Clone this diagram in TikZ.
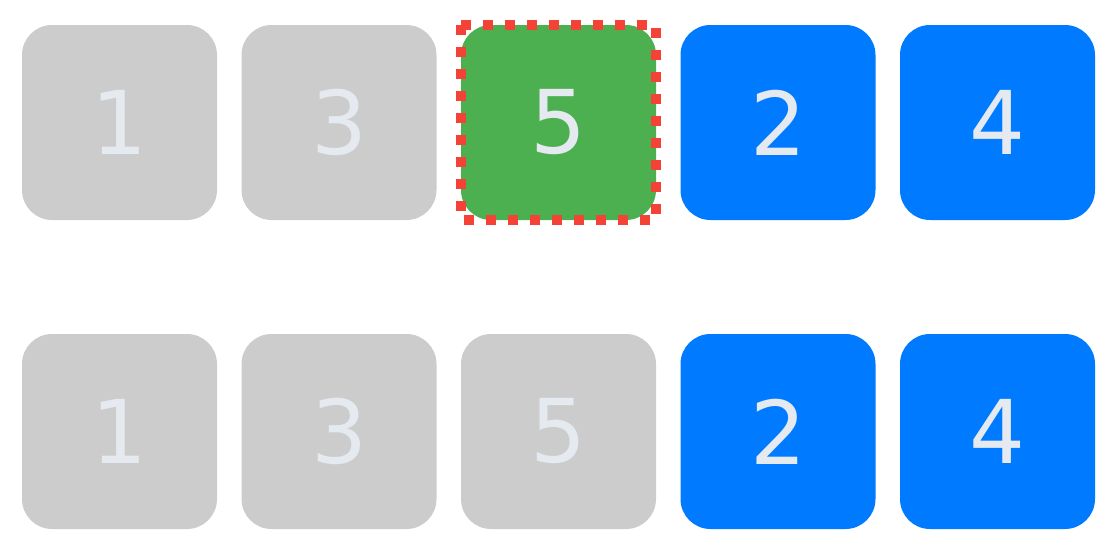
\documentclass[tikz,border=0pt]{standalone}
\usepackage{fontspec}
\setmainfont{DejaVu Sans}
\definecolor{tilegray}{HTML}{CCCCCC}
\definecolor{tilegreen}{HTML}{4CAF50}
\definecolor{tileblue}{HTML}{007BFF}
\definecolor{digitcol}{HTML}{E5E9F0}
\definecolor{markred}{HTML}{F44336}
\tikzstyle{tile}=[rectangle,rounded corners=15pt,minimum size=97.5pt,inner sep=0pt,
outer sep=0pt,text=digitcol,font=\fontsize{44}{44}\selectfont]
\tikzstyle{done}=[tile,fill=tilegray]
\tikzstyle{pick}=[tile,fill=tilegreen]
\tikzstyle{todo}=[tile,fill=tileblue]
\tikzstyle{marker}=[draw=markred,line width=5pt,dash pattern=on 5pt off 6pt]
\usetikzlibrary{positioning}

\begin{document}
\begin{tikzpicture}[node distance=109.75pt]
            \useasboundingbox (0,0) rectangle (555pt,-273pt);

            % FIRST ROW

            \node[done] at (59.75pt,-61.25pt) (a1) {1};
            \node[done, right of=a1] (a2) {3};
            \node[pick, right of=a2] (a3) {5};
            \node[todo, right of=a3] (a4) {2};
            \node[todo, right of=a4] (a5) {4};

            \draw[marker] (a3.north west) rectangle (a3.south east);

            % SECOND ROW

            \node[done, below =57pt of a1] (b1) {1};
            \node[done, right of=b1] (b2) {3};
            \node[done, right of=b2] (b3) {5};
            \node[todo, right of=b3] (b4) {2};
            \node[todo, right of=b4] (b5) {4};

        \end{tikzpicture}
\end{document}
